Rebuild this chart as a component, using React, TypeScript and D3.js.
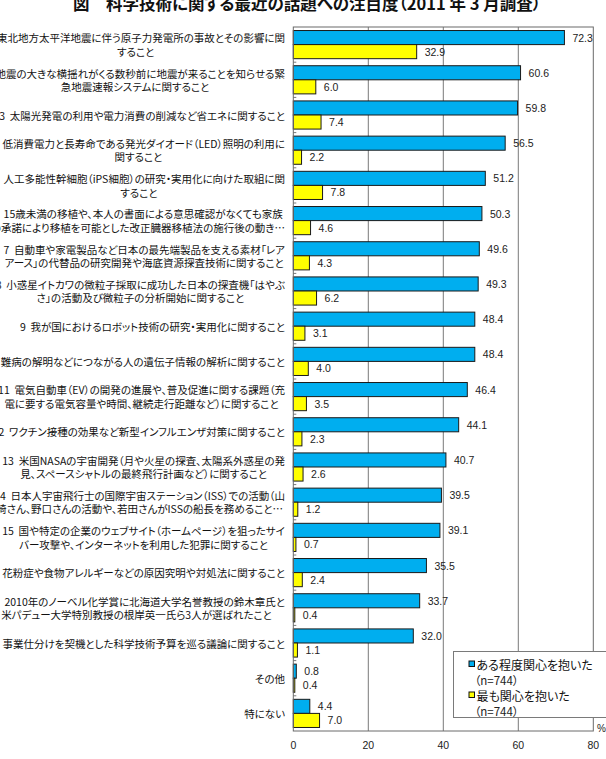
import React, { useEffect, useRef } from 'react';
import * as d3 from 'd3';

const W = 606;
const H = 759;

const chartTitle = '図　科学技術に関する最近の話題への注目度（2011 年 3 月調査）';

// Category labels, already broken into the lines they are drawn on
const categories: string[][] = [
  ['1  東北地方太平洋地震に伴う原子力発電所の事故とその影響に関', 'すること'],
  ['2  地震の大きな横揺れがくる数秒前に地震が来ることを知らせる緊', '急地震速報システムに関すること'],
  ['3  太陽光発電の利用や電力消費の削減など省エネに関すること'],
  ['4  低消費電力と長寿命である発光ダイオード（LED）照明の利用に', '関すること'],
  ['5  人工多能性幹細胞（iPS細胞）の研究・実用化に向けた取組に関', 'すること'],
  ['6  15歳未満の移植や、本人の書面による意思確認がなくても家族', 'の承諾により移植を可能とした改正臓器移植法の施行後の動き…'],
  ['7  自動車や家電製品など日本の最先端製品を支える素材「レア', 'アース」の代替品の研究開発や海底資源探査技術に関すること'],
  ['8  小惑星イトカワの微粒子採取に成功した日本の探査機「はやぶ', 'さ」の活動及び微粒子の分析開始に関すること'],
  ['9  我が国におけるロボット技術の研究・実用化に関すること'],
  ['10  難病の解明などにつながる人の遺伝子情報の解析に関すること'],
  ['11  電気自動車（EV）の開発の進展や、普及促進に関する課題（充', '電に要する電気容量や時間、継続走行距離など）に関すること'],
  ['12  ワクチン接種の効果など新型インフルエンザ対策に関すること'],
  ['13  米国NASAの宇宙開発（月や火星の探査、太陽系外惑星の発', '見、スペースシャトルの最終飛行計画など）に関すること'],
  ['14  日本人宇宙飛行士の国際宇宙ステーション（ISS）での活動（山', '崎さん、野口さんの活動や、若田さんがISSの船長を務めること…'],
  ['15  国や特定の企業のウェブサイト（ホームページ）を狙ったサイ', 'バー攻撃や、インターネットを利用した犯罪に関すること'],
  ['16  花粉症や食物アレルギーなどの原因究明や対処法に関すること'],
  ['17  2010年のノーベル化学賞に北海道大学名誉教授の鈴木章氏と', '米パデュー大学特別教授の根岸英一氏ら3人が選ばれたこと'],
  ['18  事業仕分けを契機とした科学技術予算を巡る議論に関すること'],
  ['その他'],
  ['特にない'],
];

// ある程度関心を抱いた (%)
const someInterest = [72.3, 60.6, 59.8, 56.5, 51.2, 50.3, 49.6, 49.3, 48.4, 48.4, 46.4, 44.1, 40.7, 39.5, 39.1, 35.5, 33.7, 32.0, 0.8, 4.4];
// 最も関心を抱いた (%)
const mostInterest = [32.9, 6.0, 7.4, 2.2, 7.8, 4.6, 4.3, 6.2, 3.1, 4.0, 3.5, 2.3, 2.6, 1.2, 0.7, 2.4, 0.4, 1.1, 0.4, 7.0];

const seriesNames = ['ある程度関心を抱いた', '最も関心を抱いた'];
const sampleNote = '（n=744）';
const xTicks = [0, 20, 40, 60, 80];
const unitLabel = '%';

const BLUE = '#00AEEF';
const YELLOW = '#FFFF00';
const JP_FONT = '"Noto Sans CJK JP", "Noto Sans", sans-serif';
const NUM_FONT = '"Liberation Sans", Arial, sans-serif';

export default function App() {
  const ref = useRef<SVGSVGElement>(null);

  useEffect(() => {
    const svg = d3.select(ref.current as SVGSVGElement);
    svg.selectAll('*').remove();

    const left = 293.3;
    const right = 593.3;
    const top = 27;
    const bottom = 731;

    const x = d3.scaleLinear().domain([0, 80]).range([left, right]);
    const idx = categories.map((_, i) => i);
    const y = d3.scaleBand<number>().domain(idx).range([top, bottom]).paddingInner(0.2).paddingOuter(0.1);
    const series = d3.scaleBand<number>().domain([0, 1]).range([0, y.bandwidth()]);
    const step = y.step();

    // title (sits partly above the top edge of the canvas)
    svg.append('text')
      .attr('x', 541).attr('y', 10)
      .attr('text-anchor', 'end')
      .style('font-family', JP_FONT)
      .style('font-feature-settings', '"palt"')
      .style('font-size', '16.5px').style('font-weight', 'bold')
      .attr('fill', '#111')
      .text(chartTitle);

    // plot background + grid
    svg.append('rect')
      .attr('x', left).attr('y', top)
      .attr('width', right - left).attr('height', bottom - top)
      .attr('fill', '#fff');

    svg.append('g').selectAll('line')
      .data(xTicks.slice(1, -1))
      .join('line')
      .attr('x1', d => x(d)).attr('x2', d => x(d))
      .attr('y1', top).attr('y2', bottom)
      .attr('stroke', '#7a7a7a').attr('stroke-width', 1);

    // small category ticks on the value-zero axis
    svg.append('g').selectAll('line')
      .data(d3.range(1, categories.length))
      .join('line')
      .attr('x1', left).attr('x2', left + 3)
      .attr('y1', i => top + i * step).attr('y2', i => top + i * step)
      .attr('stroke', '#7a7a7a');

    // bars
    const groups = svg.append('g').selectAll('g')
      .data(idx)
      .join('g')
      .attr('transform', i => `translate(0,${y(i)})`);

    const seriesValues = [someInterest, mostInterest];
    const seriesColors = [BLUE, YELLOW];

    [0, 1].forEach(s => {
      groups.append('rect')
        .attr('x', x(0))
        .attr('y', series(s) as number)
        .attr('width', i => x(seriesValues[s][i]) - x(0))
        .attr('height', series.bandwidth())
        .attr('fill', seriesColors[s])
        .attr('stroke', '#1a1a1a').attr('stroke-width', 1);

      groups.append('text')
        .attr('x', i => x(seriesValues[s][i]) + 8)
        .attr('y', (series(s) as number) + series.bandwidth() / 2)
        .attr('dominant-baseline', 'central')
        .style('font-family', NUM_FONT).style('font-size', '10.5px')
        .attr('fill', '#222')
        .text(i => seriesValues[s][i].toFixed(1));
    });

    // plot border
    svg.append('rect')
      .attr('x', left).attr('y', top)
      .attr('width', right - left).attr('height', bottom - top)
      .attr('fill', 'none').attr('stroke', '#6a6a6a').attr('stroke-width', 1);

    // category labels: block right-aligned, lines centred within the block
    const labelRight = 285;
    const lineGap = 13.5;
    categories.forEach((lines, i) => {
      const cy = (y(i) as number) + y.bandwidth() / 2;
      const texts = lines.map((line, k) =>
        svg.append('text')
          .attr('y', cy + (k - (lines.length - 1) / 2) * lineGap)
          .attr('dominant-baseline', 'central')
          .style('font-family', JP_FONT)
          .style('font-feature-settings', '"palt"')
          .style('font-size', '10.5px')
          .style('white-space', 'pre')
          .attr('fill', '#111')
          .text(line)
      );
      const widths = texts.map(t => (t.node() as SVGTextElement).getComputedTextLength());
      const blockW = Math.max(...widths);
      texts.forEach(t => {
        if (lines.length === 1) {
          t.attr('x', labelRight).attr('text-anchor', 'end');
        } else {
          t.attr('x', labelRight - blockW / 2).attr('text-anchor', 'middle');
        }
      });
    });

    // x tick labels
    svg.append('g').selectAll('text')
      .data(xTicks)
      .join('text')
      .attr('x', d => x(d)).attr('y', 745)
      .attr('text-anchor', 'middle').attr('dominant-baseline', 'central')
      .style('font-family', NUM_FONT).style('font-size', '10.5px')
      .attr('fill', '#222')
      .text(d => String(d));

    svg.append('text')
      .attr('x', 597).attr('y', 728)
      .attr('dominant-baseline', 'central')
      .style('font-family', NUM_FONT).style('font-size', '10px')
      .attr('fill', '#222')
      .text(unitLabel);

    // legend
    const lg = svg.append('g').attr('transform', 'translate(453.5,651.5)');
    lg.append('rect')
      .attr('width', 154).attr('height', 66)
      .attr('fill', '#fff').attr('stroke', '#7a7a7a');
    seriesNames.forEach((name, s) => {
      const oy = 12.5 + s * 31;
      lg.append('rect')
        .attr('x', 15.5).attr('y', oy - 3)
        .attr('width', 5.5).attr('height', 5.5)
        .attr('fill', seriesColors[s]).attr('stroke', '#111');
      lg.append('text')
        .attr('x', 23).attr('y', oy)
        .attr('dominant-baseline', 'central')
        .style('font-family', JP_FONT)
        .style('font-feature-settings', '"palt"')
        .style('font-size', '12px').attr('fill', '#111')
        .text(name);
      lg.append('text')
        .attr('x', 21).attr('y', oy + 15.5)
        .attr('dominant-baseline', 'central')
        .style('font-family', JP_FONT)
        .style('font-feature-settings', '"palt"')
        .style('font-size', '11.5px').attr('fill', '#222')
        .text(sampleNote);
    });
  }, []);

  return (
    <svg
      ref={ref}
      width={W}
      height={H}
      style={{ position: 'absolute', left: 0, top: 0, background: '#fff', display: 'block' }}
    />
  );
}
